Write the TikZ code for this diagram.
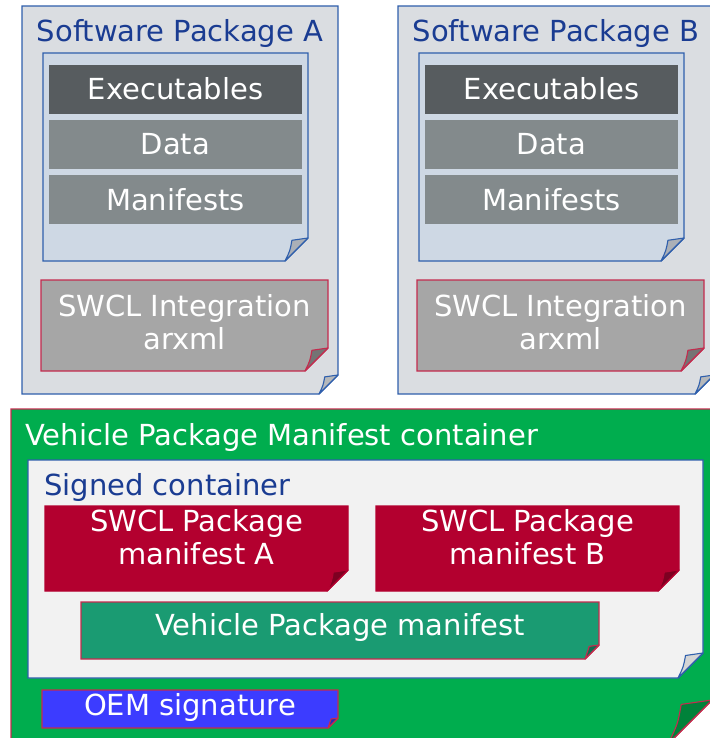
\documentclass[tikz,border=0pt]{standalone}
\usepackage{fontspec}
\setmainfont{DejaVu Sans}
\usetikzlibrary{positioning}
\pgfdeclarelayer{back}
\pgfsetlayers{back,main}

\definecolor{pkgblue}{HTML}{2F5FAC}
\definecolor{pkgtitle}{HTML}{1A3C92}
\definecolor{pkgfill}{HTML}{DADDE1}
\definecolor{docfill}{HTML}{CED8E4}
\definecolor{exefill}{HTML}{575C5F}
\definecolor{barfill}{HTML}{838A8C}
\definecolor{arxfill}{HTML}{A6A6A6}
\definecolor{redline}{HTML}{C42B4E}
\definecolor{vpgreen}{HTML}{00AD4E}
\definecolor{signfill}{HTML}{F2F2F2}
\definecolor{mfred}{HTML}{B3002F}
\definecolor{vpmteal}{HTML}{1A9B72}
\definecolor{oemblue}{HTML}{3C3CFF}

\tikzset{every node/.style={font=\fontsize{29}{33}\selectfont}}
\tikzset{sheet/.style={anchor=north west, inner sep=0pt, outer sep=0pt,
    align=center, text=white}}
\tikzset{bar/.style={sheet, minimum width=253pt, minimum height=49pt,
    text height=21pt, text depth=0pt}}
\tikzset{heading/.style={anchor=base west, inner sep=0pt}}

% sheet with a turned-down corner, drawn behind node #1
% #2 fold, #3 fill, #4 outline, #5 flap
\newcommand{\dogear}[5]{%
  \begin{pgfonlayer}{back}
    \filldraw[fill=#3, draw=#4, line width=1.4pt]
      (#1.north west) -- (#1.north east) -- ([yshift=#2]#1.south east)
      -- ([xshift=-#2]#1.south east) -- (#1.south west) -- cycle;
    \filldraw[fill=#5, draw=#4, line width=1.1pt, line join=round]
      ([xshift=-#2]#1.south east)
      .. controls ([xshift=-0.78*#2, yshift=0.45*#2]#1.south east)
      .. ([xshift=-0.7*#2, yshift=0.9*#2]#1.south east)
      -- ([yshift=#2]#1.south east) -- cycle;
  \end{pgfonlayer}}

\begin{document}
\begin{tikzpicture}[x=1pt, y=-1pt]
  \useasboundingbox (0,0) rectangle (709,738);

  % package A
  \node[sheet, minimum width=316pt, minimum height=388pt] (pkgA) at (22,6) {};
  \dogear{pkgA}{19pt}{pkgfill}{pkgblue}{pkgfill!60!gray}
  \node[heading, anchor=base, text=pkgtitle] (pkgAname) at (180,42) {Software Package A};
  \node[sheet, minimum width=265pt, minimum height=208pt] (docA) at (43,53) {};
  \dogear{docA}{23pt}{docfill}{pkgblue}{docfill!55!gray}
  \node[bar, fill=exefill] (exeA) at (49,65) {Executables};
  \node[bar, fill=barfill] (dataA) at (49,120) {Data};
  \node[bar, fill=barfill] (manA) at (49,175) {Manifests};
  \node[sheet, minimum width=287pt, minimum height=91pt, text depth=8pt] (intA) at (41,280)
    {SWCL Integration\\arxml};
  \dogear{intA}{23pt}{arxfill}{redline}{arxfill!70!black}

  % package B
  \node[sheet, minimum width=316pt, minimum height=388pt] (pkgB) at (398,6) {};
  \dogear{pkgB}{19pt}{pkgfill}{pkgblue}{pkgfill!60!gray}
  \node[heading, anchor=base, text=pkgtitle] (pkgBname) at (556,42) {Software Package B};
  \node[sheet, minimum width=265pt, minimum height=208pt] (docB) at (419,53) {};
  \dogear{docB}{23pt}{docfill}{pkgblue}{docfill!55!gray}
  \node[bar, fill=exefill] (exeB) at (425,65) {Executables};
  \node[bar, fill=barfill] (dataB) at (425,120) {Data};
  \node[bar, fill=barfill] (manB) at (425,175) {Manifests};
  \node[sheet, minimum width=287pt, minimum height=91pt, text depth=8pt] (intB) at (417,280)
    {SWCL Integration\\arxml};
  \dogear{intB}{23pt}{arxfill}{redline}{arxfill!70!black}

  % vehicle package
  \node[sheet, minimum width=701pt, minimum height=335pt] (vpc) at (11,409) {};
  \dogear{vpc}{44pt}{vpgreen}{redline}{vpgreen!75!black}
  \node[heading, text=white] (vpcname) at (25,445) {Vehicle Package Manifest container};
  \node[sheet, minimum width=675pt, minimum height=218pt] (signed) at (28,460) {};
  \dogear{signed}{25pt}{signfill}{pkgblue}{signfill!75!gray}
  \node[heading, text=pkgtitle] (signedname) at (44,495) {Signed container};
  \node[sheet, minimum width=303pt, minimum height=85pt, text depth=23pt] (mfA) at (45,506)
    {SWCL Package\\manifest A};
  \dogear{mfA}{21pt}{mfred}{mfred}{mfred!70!black}
  \node[sheet, minimum width=303pt, minimum height=85pt, text depth=23pt] (mfB) at (376,506)
    {SWCL Package\\manifest B};
  \dogear{mfB}{21pt}{mfred}{mfred}{mfred!70!black}
  \node[sheet, minimum width=518pt, minimum height=57pt, text height=21pt, text depth=11pt]
    (vpm) at (81,602) {Vehicle Package manifest};
  \dogear{vpm}{14pt}{vpmteal}{redline}{vpmteal!70!black}
  \node[sheet, minimum width=296pt, minimum height=38pt, text height=21pt, text depth=8pt]
    (oem) at (42,690) {OEM signature};
  \dogear{oem}{10pt}{oemblue}{redline}{oemblue!70!black}
\end{tikzpicture}
\end{document}
